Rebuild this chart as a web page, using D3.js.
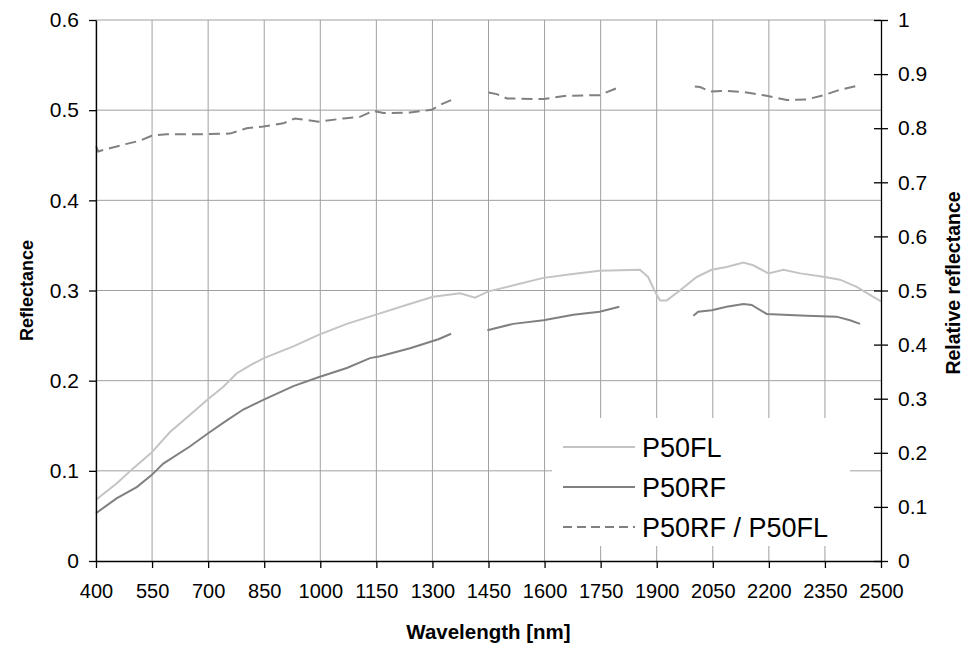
<!DOCTYPE html>
<html>
<head>
<meta charset="utf-8">
<script src="https://cdn.jsdelivr.net/npm/d3@7"></script>
<style>
  body { margin: 0; background: #fff; }
  svg { display: block; font-family: "Liberation Sans", Arial, sans-serif; }
</style>
</head>
<body>
<div id="chart"></div>
<script>
// x ticks (nm)
const xTicks = [400, 550, 700, 850, 1000, 1150, 1300, 1450, 1600, 1750, 1900, 2050, 2200, 2350, 2500];
const yLeftTicks = [0, 0.1, 0.2, 0.3, 0.4, 0.5, 0.6];
const yRightTicks = [0, 0.1, 0.2, 0.3, 0.4, 0.5, 0.6, 0.7, 0.8, 0.9, 1];

// P50FL: [wavelength, reflectance]
const p50fl = [
  [400, 0.068], [455, 0.086], [500, 0.103], [548, 0.120], [598, 0.143], [651, 0.162],
  [701, 0.180], [740, 0.193], [776, 0.208], [812, 0.217], [849, 0.225], [928, 0.238],
  [997, 0.251], [1071, 0.263], [1147, 0.273], [1230, 0.284], [1302, 0.293], [1374, 0.297],
  [1414, 0.292], [1450, 0.299], [1520, 0.306], [1597, 0.314], [1670, 0.318], [1747, 0.322],
  [1855, 0.323], [1877, 0.315], [1895, 0.299], [1909, 0.289], [1927, 0.289], [1962, 0.300],
  [2007, 0.315], [2047, 0.323], [2087, 0.326], [2132, 0.331], [2158, 0.328], [2199, 0.319],
  [2239, 0.323], [2284, 0.319], [2350, 0.315], [2390, 0.312], [2435, 0.304], [2475, 0.294],
  [2500, 0.288]
];

// P50RF: segments (gaps at water bands)
const p50rf = [
  [[400, 0.053], [455, 0.0695], [509, 0.082], [548, 0.095], [580, 0.108], [651, 0.127],
   [701, 0.142], [750, 0.156], [794, 0.168], [849, 0.179], [928, 0.194], [997, 0.204],
   [1071, 0.214], [1133, 0.225], [1160, 0.227], [1240, 0.236], [1316, 0.246], [1350, 0.252]],
  [[1447, 0.256], [1516, 0.263], [1597, 0.267], [1677, 0.273], [1747, 0.2765], [1800, 0.282]],
  [[1998, 0.272], [2011, 0.2765], [2047, 0.278], [2087, 0.282], [2132, 0.285], [2154, 0.284],
   [2194, 0.274], [2239, 0.273], [2301, 0.272], [2381, 0.271], [2417, 0.267], [2444, 0.263]]
];

// P50RF / P50FL: segments, right axis
const ratio = [
  [[400, 0.767], [406, 0.757], [437, 0.763], [482, 0.771], [518, 0.777], [549, 0.786],
   [589, 0.789], [696, 0.789], [758, 0.790], [803, 0.800], [848, 0.803], [901, 0.809],
   [932, 0.818], [995, 0.812], [1062, 0.818], [1106, 0.821], [1142, 0.832], [1169, 0.828],
   [1240, 0.829], [1298, 0.834], [1320, 0.843], [1350, 0.852]],
  [[1450, 0.866], [1472, 0.863], [1499, 0.855], [1570, 0.854], [1597, 0.854], [1659, 0.860],
   [1747, 0.861], [1793, 0.874], [1800, 0.875]],
  [[2002, 0.877], [2016, 0.876], [2043, 0.868], [2087, 0.869], [2141, 0.866], [2194, 0.860],
   [2248, 0.852], [2301, 0.853], [2346, 0.861], [2390, 0.871], [2440, 0.879]]
];

const legendItems = ["P50FL", "P50RF", "P50RF / P50FL"];

const W = 965, H = 645;
const m = { left: 96, right: 881, top: 20, bottom: 561 };

const svg = d3.select("#chart").append("svg")
    .attr("width", W)
    .attr("height", H);

const x = d3.scaleLinear().domain([400, 2500]).range([m.left, m.right]);
const y = d3.scaleLinear().domain([0, 0.6]).range([m.bottom, m.top]);
const y2 = d3.scaleLinear().domain([0, 1]).range([m.bottom, m.top]);

const gridColor = "#a0a0a0";
const lightColor = "#c4c4c4";
const darkColor = "#808080";

// grid
svg.append("g").selectAll("line")
  .data(xTicks.slice(0, -1))
  .join("line")
    .attr("x1", d => x(d)).attr("x2", d => x(d))
    .attr("y1", m.top).attr("y2", m.bottom)
    .attr("stroke", gridColor).attr("stroke-width", 1);

svg.append("g").selectAll("line")
  .data(yLeftTicks.slice(1))
  .join("line")
    .attr("x1", m.left).attr("x2", m.right)
    .attr("y1", d => y(d)).attr("y2", d => y(d))
    .attr("stroke", gridColor).attr("stroke-width", 1);

// series
const line = d3.line().x(d => x(d[0])).y(d => y(d[1]));
const line2 = d3.line().x(d => x(d[0])).y(d => y2(d[1]));

svg.append("path")
    .attr("d", line(p50fl))
    .attr("fill", "none").attr("stroke", lightColor).attr("stroke-width", 2);

svg.append("g").selectAll("path")
  .data(p50rf)
  .join("path")
    .attr("d", line)
    .attr("fill", "none").attr("stroke", darkColor).attr("stroke-width", 2);

svg.append("g").selectAll("path")
  .data(ratio)
  .join("path")
    .attr("d", line2)
    .attr("fill", "none").attr("stroke", darkColor).attr("stroke-width", 2)
    .attr("stroke-dasharray", "11,6");

// legend
const lg = svg.append("g");
lg.append("rect")
    .attr("x", 552).attr("y", 418).attr("width", 298).attr("height", 128)
    .attr("fill", "#fff");
const legendStyle = [
  { color: lightColor, dash: null },
  { color: darkColor, dash: null },
  { color: darkColor, dash: "9,5" }
];
const legendY = d3.scalePoint().domain(legendItems).range([447, 527]);
const row = lg.selectAll("g")
  .data(legendItems)
  .join("g")
    .attr("transform", d => `translate(0,${legendY(d)})`);
row.append("line")
    .attr("x1", 563).attr("x2", 635)
    .attr("stroke", (d, i) => legendStyle[i].color)
    .attr("stroke-width", 2)
    .attr("stroke-dasharray", (d, i) => legendStyle[i].dash);
row.append("text")
    .attr("x", 642).attr("y", 10)
    .attr("font-size", 27)
    .attr("fill", "#000")
    .text(d => d);

// axes
const axisColor = "#000";
const fmt = d => d === 0 ? "0" : d3.format("~g")(d);

const xAxis = svg.append("g")
    .attr("transform", `translate(0,${m.bottom})`)
    .call(d3.axisBottom(x).tickValues(xTicks).tickSize(7).tickSizeOuter(0).tickFormat(d3.format("d")));
xAxis.selectAll("text").attr("font-size", 20).attr("dy", "1.35em").attr("fill", "#000");

const yAxis = svg.append("g")
    .attr("transform", `translate(${m.left},0)`)
    .call(d3.axisLeft(y).tickValues(yLeftTicks).tickSize(7).tickSizeOuter(0).tickFormat(fmt));
yAxis.selectAll("text").attr("font-size", 21).attr("x", -17).attr("fill", "#000");

const yAxis2 = svg.append("g")
    .attr("transform", `translate(${m.right},0)`)
    .call(d3.axisRight(y2).tickValues(yRightTicks).tickSize(7).tickSizeOuter(0).tickFormat(fmt));
yAxis2.selectAll(".tick line").attr("x1", -7);
yAxis2.selectAll("text").attr("font-size", 21).attr("x", 17).attr("fill", "#000");

svg.selectAll(".domain, .tick line").attr("stroke", axisColor).attr("stroke-width", 1.3);

// titles
svg.append("text")
    .attr("transform", `translate(33,${(m.top + m.bottom) / 2}) rotate(-90)`)
    .attr("text-anchor", "middle")
    .attr("font-size", 18).attr("font-weight", "bold")
    .text("Reflectance");

svg.append("text")
    .attr("transform", `translate(960,283) rotate(-90)`)
    .attr("text-anchor", "middle")
    .attr("font-size", 19.5).attr("font-weight", "bold")
    .text("Relative reflectance");

svg.append("text")
    .attr("x", (m.left + m.right) / 2).attr("y", 639)
    .attr("text-anchor", "middle")
    .attr("font-size", 20.5).attr("font-weight", "bold")
    .text("Wavelength [nm]");
</script>
</body>
</html>
